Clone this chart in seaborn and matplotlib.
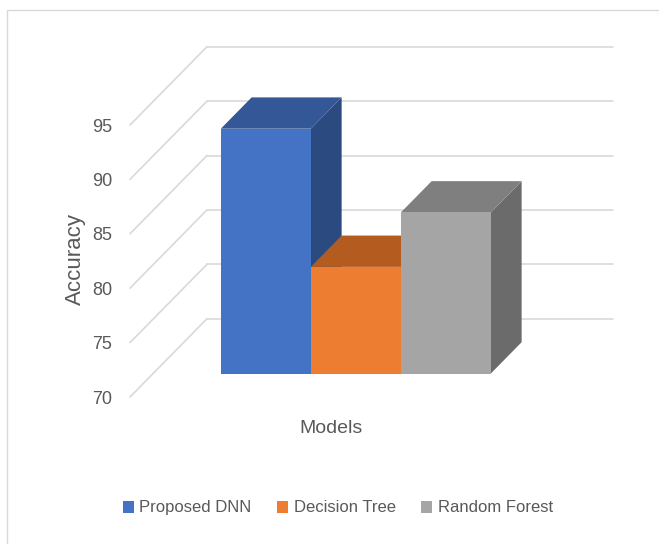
import matplotlib
matplotlib.use("Agg")
import matplotlib.pyplot as plt
from matplotlib.patches import Polygon, Patch, Rectangle
from matplotlib.transforms import Affine2D
import seaborn as sns
import pandas as pd

# Chart data
models = ["Proposed DNN", "Decision Tree", "Random Forest"]
accuracy = [92.5, 79.8, 84.8]
y_ticks = [70, 75, 80, 85, 90, 95]

# Face colours of the 3-D columns
front_colors = ["#4472C4", "#ED7D31", "#A5A5A5"]
top_colors = ["#335797", "#B45B20", "#7F7F7F"]
side_colors = ["#2A4A80", "#9E501C", "#6B6B6B"]

TEXT = "#595959"
GRID = "#D9D9D9"
FLOOR = 70

sns.set_style("white")
plt.rcParams["font.family"] = ["Liberation Sans", "DejaVu Sans"]

W, H = 659, 544
fig = plt.figure(figsize=(W / 100, H / 100), dpi=100)
ax = fig.add_axes([130 / W, 1 - 397 / H, 483 / W, (397 - 46.7) / H])

df = pd.DataFrame({"Group": ["Models"] * len(models), "Model": models, "Accuracy": accuracy})
sns.barplot(data=df, x="Group", y="Accuracy", hue="Model", hue_order=models,
            palette=dict(zip(models, front_colors)), width=0.8, saturation=1,
            errorbar=None, legend=False, linewidth=0, ax=ax)

# axis scaling (data units) and oblique depth projection
ax.set_xlim(-0.6007, 0.8304)
ax.set_ylim(FLOOR, FLOOR + 350.3 / 10.88)
DX, DY = 77 / 337.5, 78.3 / 10.88      # full wall depth in data units
D0, BD = 0.30, 0.40                     # column front position and column depth

x_front, x_right = ax.get_xlim()

# gridlines: diagonals on the side wall and horizontals on the back wall
for v in y_ticks:
    ax.plot([x_front, x_front + DX], [v, v + DY], color=GRID, lw=1.2, zorder=1, clip_on=False)
    ax.plot([x_front + DX, x_right], [v + DY, v + DY], color=GRID, lw=1.2, zorder=1, clip_on=False)

# turn the flat bars into 3-D columns
shift = Affine2D().translate(D0 * DX, D0 * DY) + ax.transData
ox, oy = BD * DX, BD * DY
for i, bar in enumerate(sorted(ax.patches, key=lambda p: p.get_x())):
    x0, w, top = bar.get_x(), bar.get_width(), bar.get_height()
    bar.set_y(FLOOR)
    bar.set_height(top - FLOOR)
    bar.set_transform(shift)
    bar.set_zorder(3 + i + 0.2)
    bar.set_clip_on(False)
    side = Polygon([(x0 + w, FLOOR), (x0 + w, top), (x0 + w + ox, top + oy), (x0 + w + ox, FLOOR + oy)],
                   closed=True, transform=shift, facecolor=side_colors[i], lw=0,
                   zorder=3 + i, clip_on=False)
    lid = Polygon([(x0, top), (x0 + w, top), (x0 + w + ox, top + oy), (x0 + ox, top + oy)],
                  closed=True, transform=shift, facecolor=top_colors[i], lw=0,
                  zorder=3 + i + 0.1, clip_on=False)
    ax.add_patch(side)
    ax.add_patch(lid)

# axes styling
for s in ax.spines.values():
    s.set_visible(False)
ax.set_xticks([])
ax.set_yticks(y_ticks)
ax.tick_params(axis="y", length=0, pad=13, labelsize=13, labelcolor=TEXT)

ax.set_xlabel("Models", fontsize=14, color=TEXT)
ax.xaxis.set_label_coords(0.416, -0.0885)
ax.xaxis.label.set_va("center")

ax.set_ylabel("Accuracy", fontsize=16, color=TEXT)
ax.yaxis.set_label_coords(-0.1139, 0.3953)
ax.yaxis.label.set_va("center")

handles = [Patch(facecolor=c, lw=0) for c in front_colors]
fig.legend(handles, models, loc="center", bbox_to_anchor=(0.5128, 0.0662), ncol=3,
           frameon=False, fontsize=12, handlelength=0.64, handleheight=0.76,
           handletextpad=0.34, columnspacing=1.54, labelcolor=TEXT)

# chart area border
fig.add_artist(Rectangle((7 / W, -0.1), 1.2, 1 - 9.5 / H + 0.1, transform=fig.transFigure,
                         fill=False, edgecolor=GRID, lw=1.0))

fig.savefig("out.png", dpi=100)
